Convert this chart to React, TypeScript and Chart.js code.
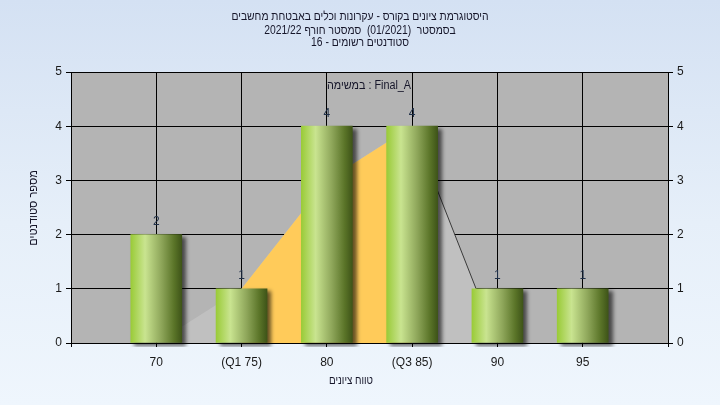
import React, { useEffect, useRef } from "react";
import { Chart, registerables } from "chart.js";

Chart.register(...registerables);

const titleLines = [
  "היסטוגרמת ציונים בקורס - עקרונות וכלים באבטחת מחשבים",
  "בסמסטר  (01/2021)  סמסטר חורף 2021/22",
  "סטודנטים רשומים - 16",
];
const noteText = "במשימה : Final_A";
const xAxisTitle = "טווח ציונים";
const yAxisTitle = "מספר סטודנטים";

const categories = [70, 75, 80, 85, 90, 95];
const tickLabels = ["70", "(Q1 75)", "80", "(Q3 85)", "90", "95"];
const counts = [2, 1, 4, 4, 1, 1];

const curveX = [70, 75, 80, 85, 90];
const curveY = [0, 1, 3, 4, 0];
const q1 = 75;
const q3 = 85;

const FONT = "'Liberation Sans', 'DejaVu Sans', Arial, sans-serif";
const BAR_W = 51;

export default function App() {
  const ref = useRef<HTMLCanvasElement | null>(null);

  useEffect(() => {
    document.body.style.margin = "0";
    const canvas = ref.current;
    if (!canvas) return;

    const curvePts = curveX.map((x, i) => ({ x, y: curveY[i] }));
    const iqrPts = curvePts.filter((p) => p.x >= q1 && p.x <= q3);
    const tailPts = curvePts.slice(curveY.indexOf(Math.max(...curveY)));
    const barPts = categories.map((x, i) => ({ x, y: counts[i] }));
    const labelMap: Record<number, string> = {};
    categories.forEach((c, i) => (labelMap[c] = tickLabels[i]));

    const bgPlugin = {
      id: "bgPlugin",
      beforeDraw(chart: any) {
        const { ctx, chartArea: a } = chart;
        ctx.save();
        ctx.fillStyle = "#b4b4b4";
        ctx.fillRect(a.left, a.top, a.right - a.left, a.bottom - a.top);
        ctx.restore();
      },
    };

    const shadowPlugin = {
      id: "shadowPlugin",
      beforeDatasetDraw(chart: any, args: any) {
        if (args.index !== 3) return;
        const ctx = chart.ctx;
        ctx.save();
        ctx.shadowColor = "rgba(0,0,0,0.6)";
        ctx.shadowBlur = 4;
        ctx.shadowOffsetX = 4;
        ctx.shadowOffsetY = 3;
      },
      afterDatasetDraw(chart: any, args: any) {
        if (args.index !== 3) return;
        chart.ctx.restore();
      },
    };

    const drawText = (ctx: any, t: string, x: number, y: number, sx: number, rot = 0) => {
      ctx.save();
      ctx.translate(x, y);
      if (rot) ctx.rotate(rot);
      ctx.scale(sx, 1);
      ctx.fillText(t, 0, 0);
      ctx.restore();
    };

    const textPlugin = {
      id: "textPlugin",
      afterDraw(chart: any) {
        const { ctx, chartArea: a, scales } = chart;
        ctx.save();
        ctx.fillStyle = "#16162a";
        ctx.textAlign = "center";
        ctx.textBaseline = "middle";
        ctx.font = `12px ${FONT}`;
        const ty = [17, 30.5, 43];
        titleLines.forEach((t, i) => drawText(ctx, t, 360, ty[i], 0.86));
        drawText(ctx, noteText, 369, 86, 0.9);
        drawText(ctx, xAxisTitle, 351, 381, 0.82);
        drawText(ctx, yAxisTitle, 34, 208, 0.92, -Math.PI / 2);
        ctx.fillStyle = "#203048";
        categories.forEach((c, i) => {
          const px = scales.x.getPixelForValue(c);
          const py = scales.y.getPixelForValue(counts[i]);
          ctx.fillText(String(counts[i]), px, py - 13);
        });
        ctx.restore();
      },
    };

    const barGradient = (c: any) => {
      const chart = c.chart;
      const xs = chart.scales?.x;
      if (!xs || c.dataIndex == null) return "#9acb3c";
      const cx = xs.getPixelForValue(categories[c.dataIndex]);
      if (!isFinite(cx)) return "#9acb3c";
      const g = chart.ctx.createLinearGradient(cx - BAR_W / 2, 0, cx + BAR_W / 2, 0);
      g.addColorStop(0, "#9acb38");
      g.addColorStop(0.28, "#c9e490");
      g.addColorStop(0.6, "#8ea65a");
      g.addColorStop(0.85, "#5a7428");
      g.addColorStop(1, "#3e5418");
      return g;
    };

    const chart = new Chart(canvas, {
      type: "bar",
      data: {
        datasets: [
          {
            type: "line",
            data: curvePts,
            backgroundColor: "#c0c0c0",
            borderWidth: 0,
            pointRadius: 0,
            fill: "origin",
            order: 4,
          } as any,
          {
            type: "line",
            data: iqrPts,
            backgroundColor: "#ffcb5a",
            borderWidth: 0,
            pointRadius: 0,
            fill: "origin",
            order: 3,
          } as any,
          {
            type: "line",
            data: tailPts,
            borderColor: "#3a3a3a",
            borderWidth: 1,
            pointRadius: 0,
            fill: false,
            order: 2,
          } as any,
          {
            type: "bar",
            data: barPts,
            backgroundColor: barGradient,
            borderWidth: 0,
            barThickness: BAR_W,
            order: 1,
            clip: { left: 0, top: 0, right: 6, bottom: 4 },
          } as any,
        ],
      },
      options: {
        animation: false,
        responsive: false,
        maintainAspectRatio: false,
        layout: { padding: { top: 72, left: 0, right: 0, bottom: 0 } },
        plugins: {
          legend: { display: false },
          tooltip: { enabled: false },
          title: { display: false },
        },
        scales: {
          x: {
            type: "linear",
            min: 65,
            max: 100,
            offset: false,
            afterFit: (s: any) => {
              s.height = 62;
            },
            ticks: {
              stepSize: 5,
              autoSkip: false,
              maxRotation: 0,
              padding: 8,
              color: "#1a1a1a",
              font: { family: FONT, size: 12 },
              callback: (v: any) => labelMap[Number(v)] ?? "",
            },
            grid: { color: "#000", lineWidth: 1, tickLength: 4, offset: false },
            border: { color: "#000", width: 1 },
          },
          y: {
            position: "left",
            min: 0,
            max: 5,
            afterFit: (s: any) => {
              s.width = 71;
            },
            ticks: {
              stepSize: 1,
              padding: 4,
              color: "#1a1a1a",
              font: { family: FONT, size: 12 },
            },
            grid: { color: "#000", lineWidth: 1, tickLength: 5 },
            border: { color: "#000", width: 1 },
          },
          y2: {
            position: "right",
            min: 0,
            max: 5,
            afterFit: (s: any) => {
              s.width = 52;
            },
            ticks: {
              stepSize: 1,
              padding: 4,
              color: "#1a1a1a",
              font: { family: FONT, size: 12 },
            },
            grid: { color: "#000", lineWidth: 1, tickLength: 5, drawOnChartArea: false },
            border: { color: "#000", width: 1 },
          },
        },
      } as any,
      plugins: [bgPlugin, shadowPlugin, textPlugin],
    });

    return () => chart.destroy();
  }, []);

  return (
    <div
      style={{
        width: 720,
        height: 405,
        background: "linear-gradient(to bottom, #d4e1f3 0%, #e6eff9 55%, #eff6fd 100%)",
      }}
    >
      <canvas ref={ref} width={720} height={405} style={{ display: "block", width: 720, height: 405 }} />
    </div>
  );
}
